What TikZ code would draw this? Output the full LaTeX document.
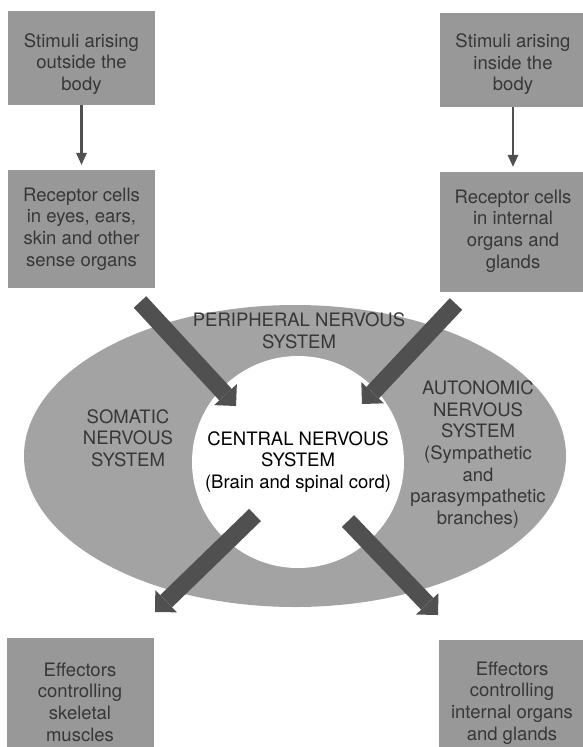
\documentclass[tikz,border=0pt]{standalone}
\usepackage{fontspec}
\setmainfont{TeX Gyre Heros}
\usetikzlibrary{arrows.meta,shapes.geometric}

\definecolor{boxgrey}{RGB}{152,152,152}
\definecolor{ringgrey}{RGB}{163,163,163}
\definecolor{arrowgrey}{RGB}{80,80,80}
\definecolor{inkgrey}{RGB}{55,55,55}

\begin{document}
\begin{tikzpicture}[x=1pt,y=-1pt,
    font=\fontsize{18.5}{21.6}\selectfont,
    greybox/.style={fill=boxgrey,minimum width=147pt,inner sep=0pt},
    boxtext/.style={text=inkgrey,align=center,inner sep=0pt},
    thinarrow/.style={draw=arrowgrey,line width=2.6pt,
      -{Triangle[width=11pt,length=12pt,line width=0pt]},shorten >=5pt},
    fatarrow/.style={draw=arrowgrey,line width=17pt,
      -{Triangle[width=31pt,length=15.5pt,line width=0pt]}}]
    \useasboundingbox (0,0) rectangle (583,747);
    \clip (0,0) rectangle (583,747);

    % stimuli and receptors
    \node[greybox,minimum height=94pt] (outerstim) at(81.5,58) {};
    \node[boxtext] (outerstimtext) at(81.5,64) {Stimuli arising\\outside the\\body};
    \node[greybox,minimum height=94pt] (innerstim) at(513,60) {};
    \node[boxtext] (innerstimtext) at(513,64.5) {Stimuli arising\\inside the\\body};

    \node[greybox,minimum height=118pt] (outerrecep) at(81.5,229) {};
    \node[boxtext] (outerreceptext) at(81.5,229) {Receptor cells\\in eyes, ears,\\skin and other\\sense organs};
    \node[greybox,minimum height=120pt] (innerrecep) at(513,232) {};
    \node[boxtext] (innerreceptext) at(513,231) {Receptor cells\\in internal\\organs and\\glands};

    \draw[thinarrow] (outerstim) -- (outerrecep);
    \draw[thinarrow] (innerstim) -- (innerrecep);

    % nervous system
    \node[ellipse,fill=ringgrey,minimum width=542pt,minimum height=302pt,inner sep=0pt] (pns) at(295,456) {};
    \node[circle,fill=white,minimum size=212pt,inner sep=0pt,align=center] (cns) at(298,462)
         {CENTRAL NERVOUS\\SYSTEM\\(Brain and spinal cord)};

    \node[boxtext] (pnslabel) at(299,331) {PERIPHERAL NERVOUS\\SYSTEM};
    \node[boxtext] (somatic) at(128,438) {SOMATIC\\NERVOUS\\SYSTEM};
    \node[boxtext] (autonomic) at(478,454.5)
         {AUTONOMIC\\NERVOUS\\SYSTEM\\(Sympathetic\\and\\parasympathetic\\branches)};

    % effectors
    \node[greybox,minimum height=128pt] (skeleff) at(80,702) {};
    \node[boxtext] (skelefftext) at(80,702) {Effectors\\controlling\\skeletal\\muscles};
    \node[greybox,minimum height=126pt] (viscereff) at(512,703) {};
    \node[boxtext] (viscerefftext) at(512,703) {Effectors\\controlling\\internal organs\\and glands};

    % big arrows
    \coordinate (inleft) at(140,302);
    \coordinate (inlefttip) at(236,406);
    \coordinate (inright) at(456,304);
    \coordinate (inrighttip) at(362,404);
    \coordinate (outleft) at(255,515);
    \coordinate (outlefttip) at(155,612);
    \coordinate (outright) at(348,521);
    \coordinate (outrighttip) at(438,615);

    \draw[fatarrow] (inleft) -- (inlefttip);
    \draw[fatarrow] (inright) -- (inrighttip);
    \draw[fatarrow] (outleft) -- (outlefttip);
    \draw[fatarrow] (outright) -- (outrighttip);
\end{tikzpicture}
\end{document}
